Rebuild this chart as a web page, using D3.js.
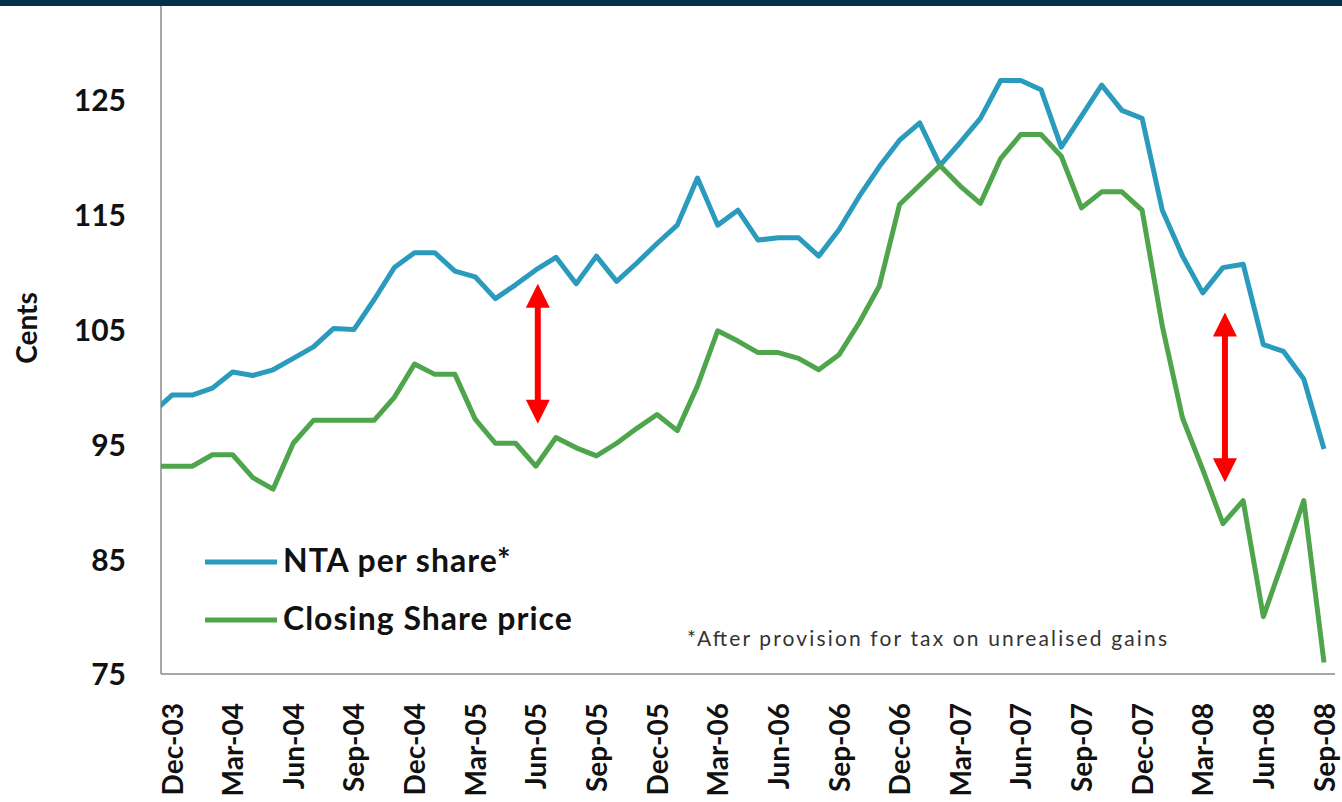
<!DOCTYPE html>
<html>
<head>
  <meta charset="utf-8">
  <title>NTA per share vs Closing Share price</title>
  <script src="https://d3js.org/d3.v7.min.js"></script>
  <style>
    body { margin: 0; background: #fff; }
    svg { display: block; }
    svg text { font-family: Lato, "Open Sans", sans-serif; }
  </style>
</head>
<body>
<svg width="1342" height="802"></svg>
<script>
  // Monthly data, Nov-03 to Sep-08 (Nov-03 only shows as the clipped stub at the axis)
  const months = [
    "Nov-03", "Dec-03",
    "Jan-04", "Feb-04", "Mar-04", "Apr-04", "May-04", "Jun-04", "Jul-04", "Aug-04", "Sep-04", "Oct-04", "Nov-04", "Dec-04",
    "Jan-05", "Feb-05", "Mar-05", "Apr-05", "May-05", "Jun-05", "Jul-05", "Aug-05", "Sep-05", "Oct-05", "Nov-05", "Dec-05",
    "Jan-06", "Feb-06", "Mar-06", "Apr-06", "May-06", "Jun-06", "Jul-06", "Aug-06", "Sep-06", "Oct-06", "Nov-06", "Dec-06",
    "Jan-07", "Feb-07", "Mar-07", "Apr-07", "May-07", "Jun-07", "Jul-07", "Aug-07", "Sep-07", "Oct-07", "Nov-07", "Dec-07",
    "Jan-08", "Feb-08", "Mar-08", "Apr-08", "May-08", "Jun-08", "Jul-08", "Aug-08", "Sep-08"
  ];

  const ntaPerShare = [
    97.7, 99.3,
    99.3, 99.9, 101.3, 101.0, 101.5, 102.5, 103.5, 105.1, 105.0, 107.6, 110.4, 111.7,
    111.7, 110.1, 109.6, 107.7, 108.9, 110.2, 111.3, 109.0, 111.4, 109.2, 110.8, 112.5,
    114.1, 118.2, 114.1, 115.4, 112.8, 113.0, 113.0, 111.4, 113.7, 116.6, 119.2, 121.5,
    123.0, 119.3, 121.3, 123.4, 126.7, 126.7, 125.9, 120.9, 123.6, 126.3, 124.1, 123.4,
    115.4, 111.4, 108.2, 110.4, 110.7, 103.7, 103.1, 100.7, 94.6
  ];

  const closingPrice = [
    93.1, 93.1,
    93.1, 94.1, 94.1, 92.1, 91.1, 95.1, 97.1, 97.1, 97.1, 97.1, 99.1, 102.0,
    101.1, 101.1, 97.2, 95.1, 95.1, 93.1, 95.6, 94.7, 94.0, 95.1, 96.4, 97.6,
    96.2, 100.1, 104.9, 104.0, 103.0, 103.0, 102.5, 101.5, 102.8, 105.6, 108.8, 115.9,
    117.6, 119.3, 117.5, 116.0, 119.9, 122.0, 122.0, 120.1, 115.6, 117.0, 117.0, 115.4,
    105.3, 97.3, 92.8, 88.1, 90.1, 80.0, 85.0, 90.1, 76.0
  ];

  const xTickLabels = [
    "Dec-03", "Mar-04", "Jun-04", "Sep-04", "Dec-04", "Mar-05", "Jun-05", "Sep-05", "Dec-05", "Mar-06",
    "Jun-06", "Sep-06", "Dec-06", "Mar-07", "Jun-07", "Sep-07", "Dec-07", "Mar-08", "Jun-08", "Sep-08"
  ];
  const yTicks = [75, 85, 95, 105, 115, 125];

  // red gap arrows: month, top and bottom value
  const gapArrows = [
    { month: "Jun-05", top: 109.0, bottom: 96.8 },
    { month: "Apr-08", top: 106.5, bottom: 91.7 }
  ];

  const seriesNames = ["NTA per share*", "Closing Share price"];
  const seriesColors = ["#2b9bbd", "#4fa54b"];
  const footnote = "*After provision for tax on unrealised gains";

  // plot frame
  const plotLeft = 161, plotRight = 1335, plotBottom = 674;

  const svg = d3.select("svg");

  const x = d3.scaleLinear()
    .domain([months.indexOf("Dec-03"), months.indexOf("Sep-08")])
    .range([172, 1324]);
  const y = d3.scaleLinear().domain([75, 125]).range([plotBottom, 100]);

  svg.append("defs").append("clipPath").attr("id", "plot-clip")
    .append("rect")
    .attr("x", plotLeft).attr("y", 0)
    .attr("width", plotRight - plotLeft).attr("height", plotBottom);

  // y axis labels
  const yAxis = d3.axisLeft(y).tickValues(yTicks).tickSize(0).tickPadding(0);
  const gy = svg.append("g").attr("transform", "translate(126,0)").call(yAxis)
    .attr("font-family", null).attr("font-size", null);
  gy.select(".domain").remove();
  gy.selectAll("text")
    .style("font-size", "30px").style("font-weight", "bold").style("fill", "#111")
    .attr("dy", "0.36em");

  // x axis labels
  const xAxis = d3.axisBottom(x)
    .tickValues(xTickLabels.map(m => months.indexOf(m)))
    .tickFormat(i => months[i])
    .tickSize(0);
  const gx = svg.append("g").attr("transform", `translate(0,${plotBottom})`).call(xAxis)
    .attr("font-family", null).attr("font-size", null);
  gx.select(".domain").remove();
  gx.selectAll("text")
    .attr("transform", "rotate(-90)")
    .attr("x", -29).attr("y", 0).attr("dy", "0.36em")
    .style("text-anchor", "end")
    .style("font-size", "28px").style("font-weight", "bold").style("fill", "#111");

  // axis lines
  svg.append("line")
    .attr("x1", plotLeft).attr("x2", plotLeft).attr("y1", 0).attr("y2", plotBottom)
    .attr("stroke", "#8a8a8a").attr("stroke-width", 1.5);
  svg.append("line")
    .attr("x1", plotLeft).attr("x2", plotRight).attr("y1", plotBottom).attr("y2", plotBottom)
    .attr("stroke", "#8a8a8a").attr("stroke-width", 1.5);

  // y axis title
  svg.append("text")
    .attr("transform", "translate(37,328) rotate(-90)")
    .attr("text-anchor", "middle")
    .style("font-size", "28px").style("font-weight", "bold").style("fill", "#111")
    .text("Cents");

  // series lines
  const line = d3.line().x((d, i) => x(i)).y(d => y(d));
  const plot = svg.append("g").attr("clip-path", "url(#plot-clip)");
  [ntaPerShare, closingPrice].forEach((values, k) => {
    plot.append("path")
      .datum(values)
      .attr("d", line)
      .attr("fill", "none")
      .attr("stroke", seriesColors[k])
      .attr("stroke-width", 5)
      .attr("stroke-linejoin", "round");
  });

  // red arrows
  const head = 12, headLen = 24;
  gapArrows.forEach(a => {
    const ax = x(months.indexOf(a.month)) + 2;
    const y1 = y(a.top), y2 = y(a.bottom);
    svg.append("line")
      .attr("x1", ax).attr("x2", ax)
      .attr("y1", y1 + headLen - 2).attr("y2", y2 - headLen + 2)
      .attr("stroke", "#ff0000").attr("stroke-width", 6);
    svg.append("path")
      .attr("d", `M${ax},${y1} L${ax + head},${y1 + headLen} L${ax - head},${y1 + headLen} Z`)
      .attr("fill", "#ff0000");
    svg.append("path")
      .attr("d", `M${ax},${y2} L${ax + head},${y2 - headLen} L${ax - head},${y2 - headLen} Z`)
      .attr("fill", "#ff0000");
  });

  // legend
  const legend = svg.append("g");
  seriesNames.forEach((name, k) => {
    const ly = 562 + k * 58;
    legend.append("line")
      .attr("x1", 205).attr("x2", 277).attr("y1", ly).attr("y2", ly)
      .attr("stroke", seriesColors[k]).attr("stroke-width", 5);
    legend.append("text")
      .attr("x", 283).attr("y", ly + 10)
      .style("font-size", "32px").style("font-weight", "bold").style("fill", "#111")
      .style("letter-spacing", "1px")
      .text(name);
  });

  // footnote
  svg.append("text")
    .attr("x", 687).attr("y", 646)
    .attr("textLength", 480).attr("lengthAdjust", "spacing")
    .style("font-size", "21px").style("fill", "#333")
    .text(footnote);

  // dark band along the top
  svg.append("rect")
    .attr("x", 0).attr("y", 0).attr("width", 1342).attr("height", 6)
    .attr("fill", "#03304a");
</script>
</body>
</html>
